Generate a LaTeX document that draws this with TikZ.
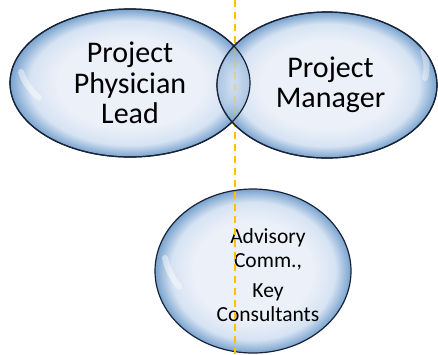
\documentclass[tikz,border=0pt]{standalone}
\usepackage{fontspec}
\setmainfont{Carlito}
\usetikzlibrary{shapes.geometric}
\definecolor{bubblein}{RGB}{236,241,249}
\definecolor{bubblemid}{RGB}{214,227,243}
\definecolor{bubbleout}{RGB}{120,162,206}
\definecolor{rim}{RGB}{25,35,55}
\definecolor{divider}{RGB}{255,192,0}
\pgfdeclareradialshading{bubble}{\pgfpoint{0bp}{0bp}}{color(0bp)=(bubblein); color(15bp)=(bubblein); color(21bp)=(bubblemid); color(25bp)=(bubbleout); color(50bp)=(bubbleout)}

\begin{document}
\begin{tikzpicture}[x=1pt, y=-1pt,
  bubble/.style={ellipse, draw=rim, line width=1.2pt, shading=bubble, inner sep=0pt, align=center},
  shine/.style={white, line width=6pt, line cap=round, opacity=0.45}]
\useasboundingbox (0,0) rectangle (438,354);

% bottom bubble and its text
\node(advisory)[bubble, minimum width=196pt, minimum height=164pt] at (253,271) {};
\draw[shine] (165,258) arc[start angle=190, end angle=215, x radius=86pt, y radius=72pt];
\node(advisorytext)[align=center, font=\fontsize{21.5}{24}\selectfont] at (268,275)
  {Advisory\\Comm.,\\[6pt]Key\\Consultants};

% divider
\coordinate (top) at (235,0);
\coordinate (bottom) at (235,354);
\draw[divider, line width=1.5pt, dash pattern=on 7pt off 5pt] (top) -- (bottom);

% top bubbles
\node(lead)[bubble, minimum width=240pt, minimum height=148pt, font=\fontsize{30}{30.5}\selectfont] at (130,83)
  {Project\\Physician\\Lead};
\draw[shine] (21,72) arc[start angle=190, end angle=215, x radius=108pt, y radius=64pt];
\node(manager)[bubble, minimum width=220pt, minimum height=146pt, font=\fontsize{30}{30}\selectfont] at (327,85)
  {\hspace*{7pt}Project\\\hspace*{7pt}Manager};
\draw[shine, opacity=0.4] (425,78) arc[start angle=-10, end angle=15, x radius=98pt, y radius=63pt];

% overlap
\begin{scope}
\clip (327,85) ellipse [x radius=110pt, y radius=73pt];
\shade[shading=bubble, opacity=0.5] (130,83) ellipse [x radius=120pt, y radius=74pt];
\draw[divider, opacity=0.3, line width=1.5pt, dash pattern=on 7pt off 5pt] (top) -- (bottom);
\end{scope}
\draw[rim, line width=1.2pt] (130,83) ellipse [x radius=120pt, y radius=74pt];
\draw[rim, line width=1.2pt] (327,85) ellipse [x radius=110pt, y radius=73pt];
\end{tikzpicture}
\end{document}
